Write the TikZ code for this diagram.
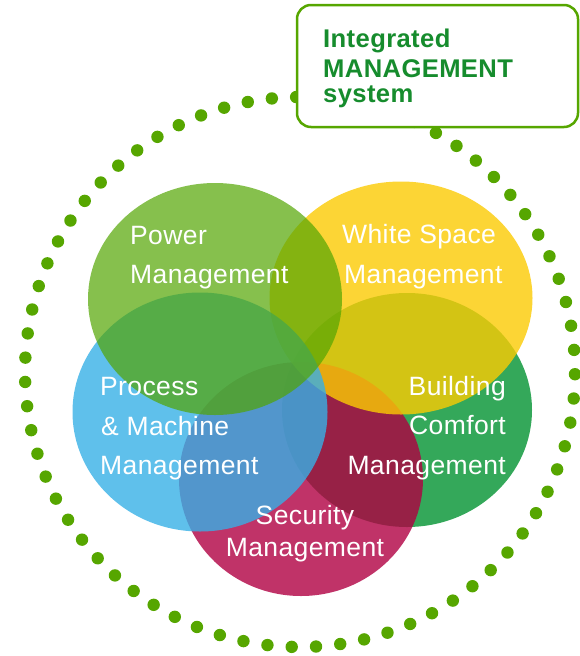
\documentclass[tikz,border=0pt]{standalone}
\usepackage{fontspec}
\setmainfont{Liberation Sans}
\newfontfamily\lblfont[LetterSpace=1.5]{Liberation Sans}
\usetikzlibrary{shapes.geometric}
\definecolor{cP}{RGB}{82,165,2}
\definecolor{cY}{RGB}{251,203,3}
\definecolor{cB}{RGB}{55,176,230}
\definecolor{cG}{RGB}{52,168,90}
\definecolor{cS}{RGB}{176,0,66}
\definecolor{dotgreen}{RGB}{86,166,0}
\definecolor{titlegreen}{RGB}{22,140,45}
\tikzset{
  blob/.style={ellipse, inner sep=0pt, outer sep=0pt, draw=none},
  lbl/.style={text=white, inner sep=0pt, font=\lblfont\fontsize{26.5}{30}\selectfont},
  ttl/.style={text=titlegreen, inner sep=0pt, font=\lblfont\fontsize{25.6}{30}\selectfont\bfseries, anchor=base west},
  dotc/.style={fill=dotgreen}
}
\begin{document}
\begin{tikzpicture}[x=1pt,y=-1pt]
\useasboundingbox (0,0) rectangle (579,656);
% dotted ring
\foreach \k in {0,...,70}{
  \pgfmathsetmacro{\ang}{91.73+\k*5.07042}
  \fill[dotc] ({300+275*cos(\ang)},{372+275*sin(\ang)}) circle (6.2);
}
% title box
\node[draw=dotgreen, fill=white, line width=2.5pt, rounded corners=14pt,
      minimum width=281pt, minimum height=122pt, inner sep=0pt] (box) at (437.5,66) {};
\node[ttl] (t1) at (323,47) {Integrated};
\node[ttl] (t2) at (323,77) {MANAGEMENT};
\node[ttl] (t3) at (323,102) {system};
% circles
\node[blob, fill=cG, minimum width=250pt, minimum height=234pt] (G) at (407,410) {};
\node[blob, fill=cS, fill opacity=0.8, minimum width=244pt, minimum height=234pt] (S) at (301,479) {};
\node[blob, fill=cY, fill opacity=0.8, minimum width=263pt, minimum height=233pt] (Y) at (401,298) {};
\node[blob, fill=cB, fill opacity=0.8, minimum width=255pt, minimum height=239pt] (B) at (200,412) {};
\node[blob, fill=cP, fill opacity=0.7, minimum width=254pt, minimum height=232pt] (P) at (215,299) {};
% labels
\node[lbl, anchor=base west] (p1) at (130,244) {Power};
\node[lbl, anchor=base west] (p2) at (130,283) {Management};
\node[lbl, anchor=base west] (w1) at (342,243) {White Space};
\node[lbl, anchor=base west] (w2) at (344,283) {Management};
\node[lbl, anchor=base west] (m1) at (100,395) {Process};
\node[lbl, anchor=base west] (m2) at (101,435) {\&~Machine};
\node[lbl, anchor=base west] (m3) at (100,474) {Management};
\node[lbl, anchor=base east] (b1) at (506,395) {Building};
\node[lbl, anchor=base east] (b2) at (506,434) {Comfort};
\node[lbl, anchor=base east] (b3) at (506,474) {Management};
\node[lbl, anchor=base] (s1) at (305,524) {Security};
\node[lbl, anchor=base] (s2) at (305,556) {Management};
\end{tikzpicture}
\end{document}
